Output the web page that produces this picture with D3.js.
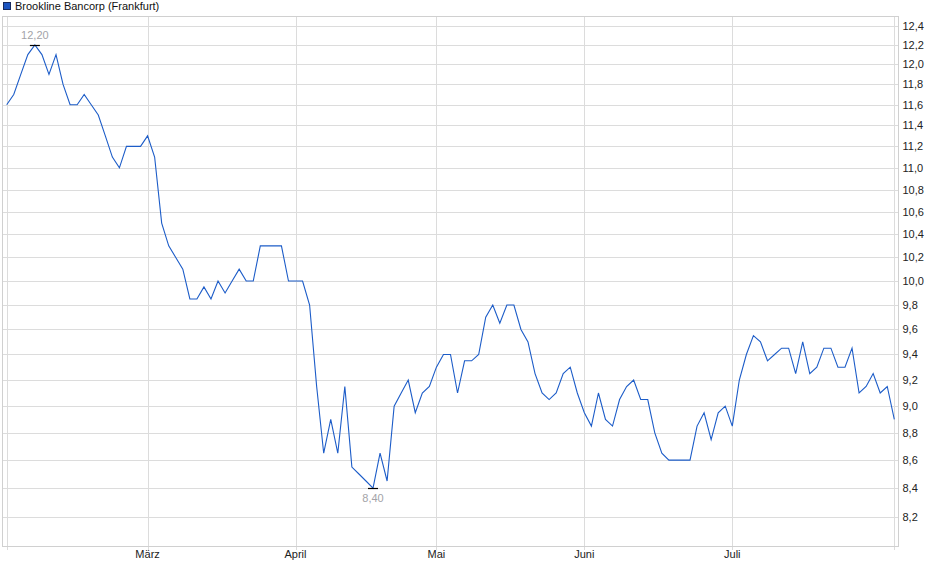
<!DOCTYPE html>
<html>
<head>
<meta charset="utf-8">
<script src="https://cdn.jsdelivr.net/npm/d3@7"></script>
<style>
  body { margin: 0; background: #fff; }
  svg { display: block; font-family: "Liberation Sans", Arial, sans-serif; }
  .grid line { stroke: #dcdcdc; shape-rendering: crispEdges; }
  .axis-label { font-size: 11px; fill: #222; }
</style>
</head>
<body>
<svg id="chart"></svg>
<script>
const title = 'Brookline Bancorp (Frankfurt)';

// closing prices, one per session (Feb - early Aug)
const prices = [
  11.6, 11.7, 11.9, 12.1, 12.2, 12.1, 11.9, 12.1, 11.8, 11.6, 11.6, 11.7, 11.6, 11.5, 11.3, 11.1, 11.0, 11.2, 11.2, 11.2, 11.3,
  11.1, 10.5, 10.3, 10.2, 10.1, 9.85, 9.85, 9.95, 9.85, 10.0, 9.9, 10.0, 10.1, 10.0, 10.0, 10.3, 10.3, 10.3, 10.3, 10.0, 10.0, 10.0,
  9.8, 9.15, 8.65, 8.9, 8.65, 9.15, 8.55, 8.5, 8.45, 8.4, 8.65, 8.45, 9.0, 9.1, 9.2, 8.95, 9.1, 9.15, 9.3, 9.4,
  9.4, 9.1, 9.35, 9.35, 9.4, 9.7, 9.8, 9.65, 9.8, 9.8, 9.6, 9.5, 9.25, 9.1, 9.05, 9.1, 9.25, 9.3, 9.1, 8.95, 8.85, 9.1,
  8.9, 8.85, 9.05, 9.15, 9.2, 9.05, 9.05, 8.8, 8.65, 8.6, 8.6, 8.6, 8.6, 8.85, 8.95, 8.75, 8.95, 9.0, 8.85, 9.2,
  9.4, 9.55, 9.5, 9.35, 9.4, 9.45, 9.45, 9.25, 9.5, 9.25, 9.3, 9.45, 9.45, 9.3, 9.3, 9.45, 9.1, 9.15, 9.25, 9.1, 9.15, 8.9
];

// month labels and the session index where each month starts
const monthLabels = ['März', 'April', 'Mai', 'Juni', 'Juli'];
const monthIndex = [20, 41, 61, 82, 103];

// price axis ticks
const yTicks = [8.2, 8.4, 8.6, 8.8, 9.0, 9.2, 9.4, 9.6, 9.8, 10.0, 10.2, 10.4, 10.6, 10.8, 11.0, 11.2, 11.4, 11.6, 11.8, 12.0, 12.2, 12.4];
const yDomain = [8.0, 12.5];

class PriceChart {
  constructor(config, data) {
    this.config = {
      parentElement: config.parentElement,
      containerWidth: config.containerWidth ?? 940,
      containerHeight: config.containerHeight ?? 579,
      frame: config.frame ?? { left: 2.5, right: 898.5, top: 16.5, bottom: 546.5 },
      plotX: config.plotX ?? [6.7, 894.3]
    };
    this.data = data;
    this.initChart();
  }

  initChart() {
    const c = this.config;
    this.svg = d3.select(c.parentElement)
      .attr('width', c.containerWidth)
      .attr('height', c.containerHeight);

    this.xScale = d3.scaleLinear().domain([0, this.data.length - 1]).range(c.plotX);
    this.yScale = d3.scaleLog().domain(yDomain).range([c.frame.bottom - 0.5, c.frame.top - 0.5]);
  }

  render() {
    const c = this.config, f = c.frame, x = this.xScale, y = this.yScale;
    const fmt = v => d3.format('.1f')(v).replace('.', ',');
    const fmt2 = v => d3.format('.2f')(v).replace('.', ',');

    // horizontal grid
    const grid = this.svg.append('g').attr('class', 'grid');
    grid.selectAll('.hgrid').data(yTicks).join('line')
      .attr('x1', f.left).attr('x2', f.right)
      .attr('y1', d => Math.round(y(d)) + 0.5).attr('y2', d => Math.round(y(d)) + 0.5);

    // vertical grid: first session, month starts, last session
    const vIdx = [0, ...monthIndex, this.data.length - 1];
    grid.selectAll('.vgrid').data(vIdx).join('line')
      .attr('x1', d => Math.round(x(d)) + 0.5).attr('x2', d => Math.round(x(d)) + 0.5)
      .attr('y1', f.top).attr('y2', f.bottom + 3);

    // frame
    this.svg.append('rect')
      .attr('x', f.left).attr('y', f.top)
      .attr('width', f.right - f.left).attr('height', f.bottom - f.top)
      .attr('fill', 'none').attr('stroke', '#d0d0d0').attr('shape-rendering', 'crispEdges');

    // y labels on the right
    this.svg.append('g').selectAll('text').data(yTicks).join('text')
      .attr('class', 'axis-label')
      .attr('x', f.right + 4)
      .attr('y', d => y(d) + 4)
      .text(fmt);

    // month labels
    this.svg.append('g').selectAll('text').data(monthLabels).join('text')
      .attr('class', 'axis-label')
      .attr('x', (d, i) => x(monthIndex[i]))
      .attr('y', f.bottom + 11)
      .attr('text-anchor', 'middle')
      .text(d => d);

    // price line
    const line = d3.line().x((d, i) => x(i)).y(d => y(d));
    this.svg.append('path')
      .datum(this.data)
      .attr('fill', 'none')
      .attr('stroke', '#1c5cc8')
      .attr('stroke-width', 1.1)
      .attr('d', line);

    // high / low markers
    const hiIdx = d3.maxIndex(this.data), loIdx = d3.minIndex(this.data);
    const marks = [
      { i: hiIdx, v: this.data[hiIdx], dy: -6 },
      { i: loIdx, v: this.data[loIdx], dy: 14 }
    ];
    const mg = this.svg.append('g');
    mg.selectAll('line').data(marks).join('line')
      .attr('x1', d => x(d.i) - 5).attr('x2', d => x(d.i) + 5)
      .attr('y1', d => Math.round(y(d.v)) + 0.5).attr('y2', d => Math.round(y(d.v)) + 0.5)
      .attr('stroke', '#000').attr('stroke-width', 1.2);
    mg.selectAll('text').data(marks).join('text')
      .attr('x', d => x(d.i))
      .attr('y', d => y(d.v) + d.dy)
      .attr('text-anchor', 'middle')
      .style('font-size', '11px')
      .style('fill', '#a3a3a8')
      .text(d => fmt2(d.v));

    // legend
    this.svg.append('rect')
      .attr('x', 3.5).attr('y', 2.5).attr('width', 7).attr('height', 7)
      .attr('fill', '#1c55c0').attr('stroke', '#182a5c');
    this.svg.append('text')
      .attr('x', 15).attr('y', 10)
      .style('font-size', '11px').style('fill', '#111')
      .text(title);
  }
}

const chart = new PriceChart({ parentElement: '#chart' }, prices);
chart.render();
</script>
</body>
</html>
